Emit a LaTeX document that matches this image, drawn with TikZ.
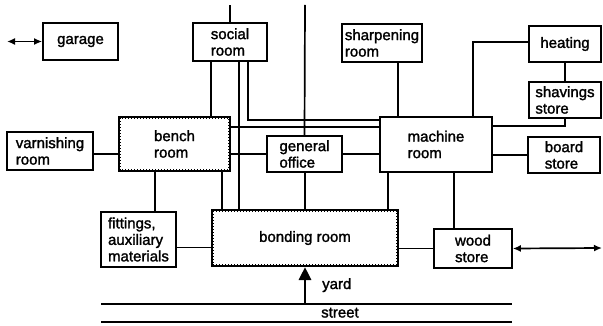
\documentclass[tikz,border=0pt]{standalone}
\usepackage{fontspec}
\setmainfont{Liberation Sans}
\newfontfamily\roomfont[FakeBold=1.6]{Liberation Sans}
\usetikzlibrary{arrows.meta}
\begin{document}
\begin{tikzpicture}[x=1pt,y=-1pt,
  txt/.style={font=\roomfont\fontsize{15}{16.5}\selectfont},
  room/.style={draw, line width=1.7pt, inner sep=0pt, align=left, txt},
  dotbox/.style={room, line width=2.1pt},
  link/.style={line width=1.7pt},
  dbl/.style={line width=1.7pt, {Latex[length=8pt,width=7pt]}-{Latex[length=8pt,width=7pt]}}]
\useasboundingbox (0,0) rectangle (603,326);
% rooms
\node[room, minimum width=75pt, minimum height=37pt] (garage) at (80.5,41.5) {garage};
\node[room, minimum width=74pt, minimum height=38pt] (social) at (230,42) {social\\room};
\node[room, minimum width=80pt, minimum height=38pt] (sharp) at (382,43) {sharpening\\room};
\node[room, minimum width=72pt, minimum height=36pt] (heat) at (565,44) {heating};
\node[room, minimum width=72pt, minimum height=36pt] (shav) at (565,100) {shavings\\store};
\node[room, minimum width=86pt, minimum height=38pt] (varn) at (50,151) {varnishing\\room};
\node[dotbox, minimum width=111pt, minimum height=54pt] (bench) at (174.5,144) {bench\\room};
\node[room, minimum width=75pt, minimum height=36pt] (office) at (304.5,154) {general\\office};
\node[room, minimum width=112pt, minimum height=55pt] (machine) at (436,144.5) {machine\\room};
\node[room, minimum width=72pt, minimum height=36pt] (board) at (564,155) {board\\store};
\node[room, minimum width=75pt, minimum height=55pt] (fit) at (138.5,239.5) {fittings,\\auxiliary\\materials};
\node[dotbox, minimum width=186pt, minimum height=56pt] (bond) at (305,238) {bonding room};
\node[room, minimum width=78pt, minimum height=39pt] (wood) at (473,248.5) {wood\\store};
% dotted inner edges
\draw[line width=1pt, dotted] ([shift={(2.2pt,-2.2pt)}]bench.north west) rectangle ([shift={(-2.2pt,2.2pt)}]bench.south east);
\draw[line width=1pt, dotted] ([shift={(2.2pt,-2.2pt)}]bond.north west) rectangle ([shift={(-2.2pt,2.2pt)}]bond.south east);
% free ends
\coordinate (gl) at (7,41.5);
\coordinate (st1) at (230,5);
\coordinate (ot1) at (305,5);
\coordinate (wr) at (602,248);
\coordinate (yb) at (305,304);
\coordinate (s1a) at (101,304); \coordinate (s1b) at (512,304);
\coordinate (s2a) at (101,322); \coordinate (s2b) at (512,322);
\coordinate (xa) at (211,0);
\coordinate (xb) at (239,0);
\coordinate (xc) at (248,120);
\coordinate (xd) at (155,0);
\coordinate (xe) at (222,0);
\coordinate (xf) at (388,0);
\coordinate (xg) at (454,0);
\coordinate (xh) at (398,0);
\coordinate (xi) at (473,42);
\coordinate (xj) at (565,126);
\coordinate (ya) at (0,127);
\coordinate (yb2) at (0,154);
\coordinate (yc) at (0,247.5);
% connectors
\draw[dbl] (gl) -- (garage.west);
\draw[link] (st1 |- social.north) -- (st1);
\draw[link] (ot1) -- (office.north);
\draw[link] (varn.east |- yb2) -- (bench.west |- yb2);
\draw[link] (social.south -| xa) -- (bench.north -| xa);
\draw[link] (social.south -| xb) -- (bond.north -| xb);
\draw[link] (social.south -| xc) -- (xc) -- (machine.west |- xc);
\draw[link] (bench.east |- ya) -- (machine.west |- ya);
\draw[link] (bench.east |- yb2) -- (office.west |- yb2);
\draw[link] (office.east |- yb2) -- (machine.west |- yb2);
\draw[link] (office.south -| ot1) -- (bond.north -| ot1);
\draw[link] (bench.south -| xd) -- (fit.north -| xd);
\draw[link] (bench.south -| xe) -- (bond.north -| xe);
\draw[link] (fit.east |- yc) -- (bond.west |- yc);
\draw[link] (machine.south -| xf) -- (bond.north -| xf);
\draw[link] (machine.south -| xg) -- (wood.north -| xg);
\draw[link] (bond.east |- wood.west) -- (wood.west);
\draw[dbl] (wood.east) -- (wr);
\draw[link] (sharp.south -| xh) -- (machine.north -| xh);
\draw[link] (heat.west |- xi) -- (xi) -- (machine.north -| xi);
\draw[link] (heat.south) -- (shav.north);
\draw[link] (shav.south) -- (xj) -- (machine.east |- xj);
\draw[link] (machine.east |- board.west) -- (board.west);
% street and yard
\draw[link] (s1a) -- (s1b);
\draw[link] (s2a) -- (s2b);
\draw[line width=2.8pt, -{Triangle[length=13pt,width=12pt]}] (yb) -- (bond.south -| yb);
\node[txt, anchor=base west, inner sep=0pt] (yard) at (322,289) {yard};
\node[txt, anchor=base west, inner sep=0pt] (street) at (321,317.5) {street};
\end{tikzpicture}
\end{document}
